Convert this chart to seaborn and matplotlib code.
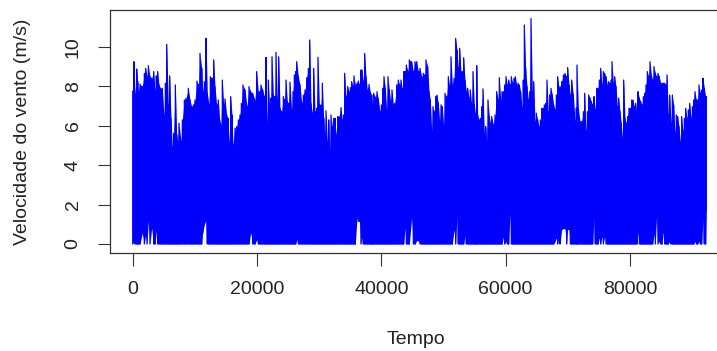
import numpy as np
import pandas as pd
import matplotlib
matplotlib.use("Agg")
import matplotlib.pyplot as plt
import seaborn as sns

# Upper envelope of wind speed (m/s), by time index
tempo = [
    0, 209, 370, 638, 799, 906, 1174, 1550, 1871, 2086, 2300, 2515, 2783, 3051, 3373, 3588,
    3802, 4017, 4231, 4499, 4767, 5035, 5250, 5465, 5733, 5947, 6162, 6376, 6591, 6859, 7074,
    7234, 7449, 7771, 7985, 8307, 8575, 8951, 9219, 9487, 9755, 10023, 10345, 10613, 10828,
    11096, 11256, 11524, 11792, 12007, 12275, 12490, 12811, 13026, 13240, 13508, 13777, 13991,
    14206, 14420, 14635, 14850, 15118, 15332, 15493, 15761, 15976, 16137, 16459, 16727, 16995,
    17263, 17478, 17746, 18068, 18389, 18711, 18979, 19301, 19677, 19944, 20213,
    20375, 20643, 20911, 21180, 21448, 21609, 21823, 22038, 22252, 22413, 22628, 22896, 23057,
    23271, 23486, 23700, 23968, 24237, 24451, 24666, 24880, 25095, 25309, 25577, 25792, 26006,
    26221, 26382, 26650, 26918, 27186, 27454, 27723, 27991, 28259, 28473, 28688, 28902, 29117,
    29331, 29600, 29814, 30029, 30297, 30511, 30726, 30887, 31101, 31316, 31530, 31691, 31906,
    32120, 32335, 32549, 32710, 32978, 33193, 33515, 33729, 33944, 34105, 34319, 34587, 34802,
    35016, 35231, 35445, 35606, 35821, 36089, 36303, 36518, 36732, 36893, 37108, 37322, 37537,
    37751, 38019, 38234, 38449, 38609, 38770, 39092, 39307, 39521, 39789, 40004, 40218, 40433,
    40647, 40862, 41076, 41291, 41505, 41720, 41934, 42149, 42471, 42739, 42953, 43168, 43382,
    43597, 43811, 44026, 44294, 44509,
    44886, 45154, 45422, 45690, 45958, 46227, 46495, 46763, 47031, 47192, 47460, 47675, 47889,
    48103, 48318, 48532, 48747, 48961, 49176, 49391, 49605, 49820, 50034, 50249, 50517, 50785,
    51000, 51214, 51429, 51697, 51965, 52179, 52394, 52608, 52823, 53037, 53252, 53466, 53681,
    53895, 54110, 54324, 54539, 54754, 54968, 55183, 55343, 55504, 55719, 55933, 56148, 56362,
    56577, 56791, 56952, 57167, 57381, 57596, 57757, 58025, 58293, 58561, 58776, 58990, 59205,
    59419, 59634, 59848, 60063, 60277, 60492, 60706, 60921, 61135, 61350, 61565, 61779, 61994,
    62208, 62423, 62637, 62852, 63013, 63227, 63442, 63656, 63871, 64085, 64300, 64514, 64729,
    64943, 65158, 65372, 65587, 65801, 66016, 66230, 66445, 66660, 66874, 67089, 67303, 67518,
    67732, 67947, 68161, 68376, 68590,
    68752, 69021, 69289, 69557, 69825, 69986, 70200, 70415, 70630, 70898, 71166, 71380, 71488,
    71702, 71970, 72238, 72507, 72721, 72936, 73150, 73365, 73579, 73794, 74008, 74223, 74437,
    74652, 74866, 75081, 75295, 75510, 75725, 75939, 76154, 76368, 76583, 76797, 77012, 77119,
    77333, 77548, 77762, 77977, 78191, 78406, 78620, 78781, 78996, 79210, 79425, 79639, 79854,
    80068, 80283, 80497, 80712, 80926, 81141, 81302, 81517, 81731, 81946, 82160, 82375, 82589,
    82804, 83018, 83233, 83447, 83662, 83876, 84091, 84305, 84520, 84734, 84949, 85163, 85378,
    85592, 85807, 85968, 86182, 86397, 86611, 86826, 87040, 87255, 87469, 87684, 87898, 88113,
    88327, 88542, 88756, 88971, 89185, 89400, 89615, 89829, 90044, 90258, 90473, 90687, 90902,
    91116, 91331, 91545, 91760, 91974, 92189, 92296,
]
vel_max = [
    7.76, 9.24, 7.59, 8.87, 8.23, 7.69, 8.11, 7.98, 8.65, 8.90, 8.48, 9.04, 8.48, 8.40, 8.74, 7.76,
    8.52, 8.74, 8.06, 7.89, 7.89, 6.49, 8.15, 10.12, 7.05, 8.52, 6.37, 4.94, 5.62, 8.06, 5.53,
    5.16, 6.12, 5.19, 6.29, 7.30, 7.39, 7.89, 7.30, 6.96, 7.05, 7.30, 8.26, 8.06, 9.66,
    8.90, 7.72, 8.23, 10.42, 7.64, 7.05, 8.48, 8.40, 9.33, 7.98, 7.05, 7.30, 6.29,
    6.04, 8.31, 7.05, 7.35, 6.54, 6.37, 5.11, 7.47, 6.54, 5.03, 5.87, 5.95, 6.29,
    6.54, 7.13, 8.06, 7.81, 6.96, 7.98, 7.72, 7.64, 7.30, 8.74, 7.69,
    7.72, 8.06, 7.81, 7.47, 9.46, 6.12, 8.31, 6.88, 7.39, 9.49, 7.55, 7.47, 9.71,
    7.30, 9.49, 6.88, 6.71, 7.47, 7.30, 8.31, 7.22, 7.13, 8.20, 6.71, 7.72, 8.57,
    8.74, 9.24, 8.48, 8.06, 7.13, 7.55, 7.81, 8.43, 8.90, 10.34, 7.13, 6.63, 8.90,
    6.71, 6.88, 9.46, 7.08, 7.05, 8.15, 6.37, 5.53, 6.75, 5.19, 6.29, 4.69, 6.54,
    5.95, 6.37, 6.37, 5.53, 6.46, 6.46, 6.91, 6.29, 6.54, 8.65, 7.47, 7.98, 7.72,
    7.93, 8.23, 7.98, 8.52, 8.06, 8.15, 8.26, 8.06, 8.82, 8.82, 8.23, 9.66, 8.48,
    7.81, 8.09, 7.69, 7.55, 6.88, 7.64, 7.42, 7.72, 7.35, 6.71, 7.05, 7.89, 8.48,
    7.89, 6.71, 8.48, 7.81, 7.22, 7.81, 7.05, 7.13, 8.06, 8.31, 8.06, 8.31, 7.86,
    8.74, 8.74, 9.07, 8.74, 9.33,
    9.24, 8.74, 9.24, 9.24, 8.74, 8.90, 8.48, 8.65, 8.57, 9.33, 8.99, 7.72, 7.30,
    5.70, 6.96, 6.71, 7.47, 7.55, 7.13, 6.21, 7.05, 6.96, 5.95, 7.64, 7.47, 8.48,
    7.98, 9.49, 8.06, 8.40, 10.42, 9.83, 8.90, 9.92, 8.74, 8.74, 9.44, 8.31, 7.72,
    7.89, 7.39, 7.81, 7.05, 8.74, 7.05, 6.54, 9.04, 6.54, 6.29, 6.37, 6.96, 7.86,
    5.62, 5.95, 5.19, 7.30, 6.46, 6.04, 6.46, 6.04, 6.54, 7.72, 7.30, 8.43, 7.27,
    7.72, 7.72, 8.06, 8.48, 8.06, 8.31, 8.06, 8.48, 8.15, 8.40, 8.48, 8.06, 8.15,
    8.06, 7.72, 6.88, 8.31, 11.10, 8.90, 7.98, 7.30, 7.72, 11.43, 7.72, 8.23, 6.21,
    6.63, 6.29, 5.95, 6.29, 6.88, 6.88, 7.05, 7.13, 8.31, 6.71, 7.55, 7.89, 7.55,
    7.05, 6.80, 7.55, 8.48, 7.89,
    7.98, 8.23, 8.57, 8.65, 8.48, 8.94, 8.06, 7.55, 8.31, 7.55, 6.21, 6.88, 9.07,
    6.88, 6.21, 6.21, 6.71, 7.64, 5.70, 6.71, 7.55, 7.39, 7.22, 7.05, 7.47, 6.80,
    7.89, 7.89, 8.31, 8.90, 8.06, 8.74, 8.65, 8.48, 8.06, 8.23, 8.15, 8.31, 9.24,
    8.15, 8.48, 7.98, 6.96, 7.39, 6.71, 6.12, 5.36, 8.31, 6.37, 6.12, 6.46, 6.88,
    6.88, 7.30, 7.30, 6.96, 7.13, 6.54, 7.72, 7.39, 7.22, 7.05, 7.47, 7.64, 8.06,
    8.74, 8.48, 9.24, 8.57, 8.31, 8.99, 8.65, 8.48, 8.65, 8.48, 8.15, 8.15, 8.15,
    8.15, 8.06, 8.57, 6.54, 7.55, 6.12, 7.55, 7.05, 5.62, 6.54, 6.46, 5.95, 5.19,
    6.46, 5.70, 6.37, 6.88, 6.37, 6.80, 7.13, 6.37, 6.96, 7.30, 7.72, 7.30, 7.30,
    8.06, 7.64, 7.81, 8.40, 7.89, 7.47, 7.47,
]

# Lower envelope: places where the minimum speed stays above zero
tempo_min = [
    209, 1442, 2086, 2622, 3051, 3749, 11256, 11524, 11739, 18979, 19944, 26382, 36035, 36303,
    36518, 36840, 43811, 44886, 45583, 45905, 51750, 52126, 53466, 59527, 60170, 60813, 67947,
    68216, 68592, 68913, 69128, 69396, 69664, 69932, 70147, 74223, 75081, 75456, 75885, 81248,
    83823, 84252, 84681, 85378, 86290, 90580, 91116, 91813, 92296,
]
vel_min_pts = [
    0.13, 0.56, 0.47, 1.15, 0.81, 0.64, 0.56, 0.98, 1.23, 0.59, 0.22, 0.22, 1.32, 1.15,
    1.15, 0.35, 0.81, 1.35, 0.17, 0.17, 0.73, 1.52, 0.42, 0.34, 0.13, 1.57, 0.13,
    0.30, 0.44, 0.56, 0.73, 0.78, 0.78, 0.78, 0.73, 1.35, 0.30, 0.39, 0.39, 0.59,
    0.51, 1.52, 0.13, 0.59, 0.13, 0.13, 0.13, 1.32, 1.74,
]

x_ticks = [0, 20000, 40000, 60000, 80000]
y_ticks = [0, 2, 4, 6, 8, 10]

# ---- assemble ----
t = np.array(tempo, dtype=float)
vmax = np.array(vel_max, dtype=float)
vmin = np.zeros_like(vmax)
for tm, vm in zip(tempo_min, vel_min_pts):
    i = int(np.argmin(np.abs(t - tm)))
    vmin[i] = max(vmin[i], vm)

df = pd.DataFrame({
    "Tempo": np.repeat(t, 2),
    "Velocidade": np.column_stack([vmin, vmax]).ravel(),
})

sns.set_style("ticks")
plt.rcParams["font.family"] = ["Liberation Sans", "DejaVu Sans"]

W, H = 717, 351
fig = plt.figure(figsize=(W / 100, H / 100), dpi=100)
L, R, T, B = 109.5, 723, 10, 253
ax = fig.add_axes([L / W, 1 - B / H, (R - L) / W, (B - T) / H])

ax.fill_between(t, vmin, vmax, color="#0000FF", lw=0)
sns.lineplot(data=df, x="Tempo", y="Velocidade", sort=False, estimator=None,
             color="#0000FF", lw=0.9, ax=ax)

ax.set_xlim(-3733, 94979)
ax.set_ylim(-0.456, 11.86)
ax.set_xticks(x_ticks)
ax.set_xticklabels([str(v) for v in x_ticks], fontsize=14, color="#222222")
ax.set_yticks(y_ticks)
ax.set_yticklabels([str(v) for v in y_ticks], fontsize=14, rotation=90,
                   va="center", color="#222222")
ax.tick_params(axis="both", direction="out", length=9, width=0.8, color="#333333", pad=11)
for s in ax.spines.values():
    s.set_linewidth(0.9)
    s.set_color("#333333")
    s.set_visible(True)
ax.set_xlabel("")
ax.set_ylabel("")

fig.text((L + R) / 2 / W, 1 - 340 / H, "Tempo", ha="center", va="center",
         fontsize=14, color="#222222")
fig.text(23 / W, 1 - (T + B) / 2 / H, "Velocidade do vento (m/s)", ha="center",
         va="center", rotation=90, fontsize=14, color="#222222")

fig.savefig("out.png", dpi=100)
